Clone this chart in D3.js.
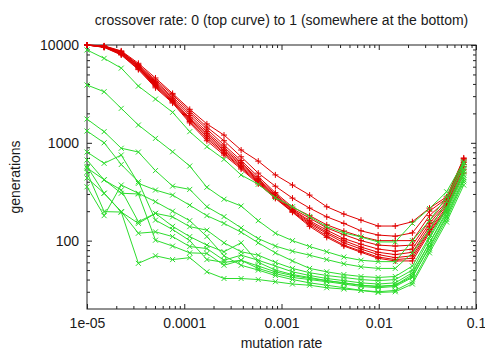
<!DOCTYPE html>
<html>
<head>
<meta charset="utf-8">
<script src="https://cdn.jsdelivr.net/npm/d3@7"></script>
<style>
  body { margin: 0; background: #fff; }
  text { font-family: "Liberation Sans", Arial, sans-serif; font-size: 14px; fill: #1a1a1a; }
</style>
</head>
<body>
<svg id="chart" width="485" height="350"></svg>
<script>
// x values shared by every run
const mutationRates = [1e-5, 1.5e-5, 2.25e-5, 3.375e-5, 5.06e-5, 7.59e-5, 1.139e-4, 1.709e-4,
  2.563e-4, 3.844e-4, 5.767e-4, 8.65e-4, 1.297e-3, 1.946e-3, 2.919e-3, 4.379e-3,
  6.568e-3, 9.853e-3, 1.478e-2, 2.217e-2, 3.325e-2, 4.988e-2, 7.482e-2];

const xTicks = [1e-5, 1e-4, 1e-3, 1e-2, 1e-1];
const xTickLabels = ["1e-05", "0.0001", "0.001", "0.01", "0.1"];
const yTicks = [100, 1000, 10000];
const yTickLabels = ["100", "1000", "10000"];

// generations, red runs (+)
const redRuns = [
  [10000, 9800, 8700, 6500, 4600, 3200, 2200, 1560, 1200, 844, 650, 470, 370, 292, 222, 187, 162, 141, 141, 156, 215, 280, 700],
  [10000, 9750, 8600, 6300, 4400, 3100, 2100, 1450, 1050, 720, 490, 360, 272, 215, 175, 150, 126, 114, 111, 120, 200, 270, 690],
  [10000, 9700, 8500, 6200, 4250, 2950, 2000, 1380, 950, 660, 450, 310, 220, 180, 145, 125, 110, 100, 100, 100, 180, 260, 670],
  [10000, 9650, 8400, 6100, 4150, 2850, 1900, 1300, 900, 630, 430, 300, 212, 170, 135, 115, 100, 90, 88, 90, 160, 250, 650],
  [10000, 9600, 8300, 6000, 4050, 2750, 1800, 1250, 860, 610, 420, 290, 208, 160, 128, 105, 92, 82, 78, 82, 150, 240, 630],
  [10000, 9550, 8200, 5900, 3950, 2700, 1750, 1200, 830, 590, 410, 285, 205, 155, 122, 100, 86, 76, 72, 76, 140, 230, 600],
  [10000, 9500, 8100, 5800, 3850, 2650, 1700, 1150, 800, 570, 400, 280, 200, 150, 118, 95, 82, 72, 67, 70, 130, 220, 570],
  [10000, 9500, 8000, 5700, 3750, 2600, 1650, 1100, 780, 555, 390, 275, 197, 145, 112, 90, 78, 68, 64, 66, 125, 210, 530],
  [10000, 9450, 7900, 5600, 3650, 2550, 1600, 1050, 750, 540, 380, 270, 195, 140, 108, 88, 76, 66, 62, 62, 120, 205, 490]
];

// generations, green runs (x)
const greenRuns = [
  [8900, 7300, 5800, 3800, 2800, 2050, 1300, 912, 678, 469, 377, 275, 222, 176, 139, 120, 109, 97, 97, 150, 213, 316, 640],
  [3900, 3330, 2250, 1520, 1110, 810, 579, 351, 265, 226, 160, 119, 100, 87, 77, 68, 63, 61, 61, 100, 160, 280, 620],
  [1750, 1300, 880, 805, 520, 361, 334, 222, 176, 135, 105, 88, 78, 71, 64, 58, 54, 52, 52, 75, 130, 250, 590],
  [1320, 1000, 600, 400, 162, 130, 100, 64, 60, 63, 55, 48, 44, 41, 39, 37, 35, 34, 35, 45, 95, 200, 520],
  [805, 617, 750, 385, 329, 292, 230, 180, 150, 122, 95, 75, 62, 52, 48, 45, 43, 42, 43, 55, 110, 220, 540],
  [667, 417, 329, 156, 190, 175, 139, 128, 95, 77, 71, 60, 52, 47, 44, 42, 40, 39, 40, 50, 105, 210, 500],
  [574, 305, 198, 119, 123, 110, 87, 83, 63, 71, 63, 55, 48, 44, 41, 39, 37, 36, 37, 47, 95, 190, 470],
  [553, 420, 305, 300, 101, 88, 75, 74, 56, 63, 52, 46, 42, 40, 38, 36, 34, 33, 34, 42, 88, 180, 440],
  [500, 198, 196, 150, 190, 140, 110, 90, 77, 95, 60, 50, 45, 42, 39, 37, 35, 34, 35, 43, 85, 175, 420],
  [437, 305, 196, 58.6, 70, 64, 67, 48, 41, 41, 40, 38, 36, 35, 33, 32, 31, 30, 31, 38, 80, 165, 400],
  [355, 180, 370, 305, 250, 200, 160, 110, 70, 56, 50, 44, 40, 37, 35, 33, 31, 29.5, 30, 36, 75, 155, 370]
];

const RED = "#e00000";
const GREEN = "#2ddc2d";

const margin = { top: 45, right: 9, bottom: 41, left: 87 };
const width = 485 - margin.left - margin.right;
const height = 350 - margin.top - margin.bottom;

const svg = d3.select("#chart");
const g = svg.append("g").attr("transform", `translate(${margin.left}, ${margin.top})`);

const x = d3.scaleLog().domain([1e-5, 0.1]).range([0, width]);
const y = d3.scaleLog().domain([20, 10000]).range([height, 0]);

// minor tick values (2..9 in each decade)
const minor = (scale) => {
  const [lo, hi] = scale.domain();
  const out = [];
  for (let d = Math.pow(10, Math.floor(Math.log10(lo))); d < hi; d *= 10) {
    for (let m = 2; m <= 9; m++) {
      const v = d * m;
      if (v > lo && v < hi) out.push(v);
    }
  }
  return out;
};

const tickColor = "#222";

const xAxis = (sel, orient, size, vals, labels) => sel.call(
  (orient === "bottom" ? d3.axisBottom(x) : d3.axisTop(x))
    .tickValues(vals).tickSize(-size).tickSizeOuter(0)
    .tickFormat((d, i) => labels ? labels[i] : "")
);
const yAxis = (sel, orient, size, vals, labels) => sel.call(
  (orient === "left" ? d3.axisLeft(y) : d3.axisRight(y))
    .tickValues(vals).tickSize(-size).tickSizeOuter(0)
    .tickFormat((d, i) => labels ? labels[i] : "")
);

// ticks on all four sides, majors and minors
const axes = [
  g.append("g").attr("transform", `translate(0, ${height})`).call(xAxis, "bottom", 5, xTicks, xTickLabels),
  g.append("g").attr("transform", `translate(0, ${height})`).call(xAxis, "bottom", 3, minor(x)),
  g.append("g").call(xAxis, "top", 5, xTicks),
  g.append("g").call(xAxis, "top", 3, minor(x)),
  g.append("g").call(yAxis, "left", 5, yTicks, yTickLabels),
  g.append("g").call(yAxis, "left", 3, minor(y)),
  g.append("g").attr("transform", `translate(${width}, 0)`).call(yAxis, "right", 5, yTicks),
  g.append("g").attr("transform", `translate(${width}, 0)`).call(yAxis, "right", 3, minor(y))
];
axes.forEach((a) => {
  a.select(".domain").remove();
  a.selectAll("line").attr("stroke", tickColor);
  a.selectAll("text").attr("font-size", 14).attr("font-family", null).style("fill", "#1a1a1a");
});
axes[0].selectAll("text").attr("dy", "1.14em");
axes[4].selectAll("text").attr("x", -8);

// frame
g.append("rect")
  .attr("x", 0).attr("y", 0)
  .attr("width", width).attr("height", height)
  .attr("fill", "none").attr("stroke", tickColor).attr("stroke-width", 1);

const line = d3.line()
  .x((d, i) => x(mutationRates[i]))
  .y((d) => y(d));

const drawRuns = (runs, color, marker) => {
  const layer = g.append("g");
  runs.forEach((run) => {
    layer.append("path")
      .datum(run)
      .attr("fill", "none")
      .attr("stroke", color)
      .attr("stroke-width", 1)
      .attr("d", line);
    layer.selectAll(null)
      .data(run)
      .enter()
      .append("path")
      .attr("transform", (d, i) => `translate(${x(mutationRates[i])}, ${y(d)})`)
      .attr("d", marker)
      .attr("stroke", color)
      .attr("stroke-width", 1)
      .attr("fill", "none");
  });
};

drawRuns(redRuns, RED, "M-3,0H3M0,-3V3");
drawRuns(greenRuns, GREEN, "M-2.5,-2.5L2.5,2.5M-2.5,2.5L2.5,-2.5");

// labels
svg.append("text")
  .attr("x", margin.left + width / 2)
  .attr("y", 25)
  .attr("text-anchor", "middle")
  .text("crossover rate: 0 (top curve) to 1 (somewhere at the bottom)");

svg.append("text")
  .attr("x", margin.left + width / 2)
  .attr("y", 348)
  .attr("text-anchor", "middle")
  .text("mutation rate");

svg.append("text")
  .attr("transform", `translate(20, ${margin.top + height / 2}) rotate(-90)`)
  .attr("text-anchor", "middle")
  .text("generations");
</script>
</body>
</html>
